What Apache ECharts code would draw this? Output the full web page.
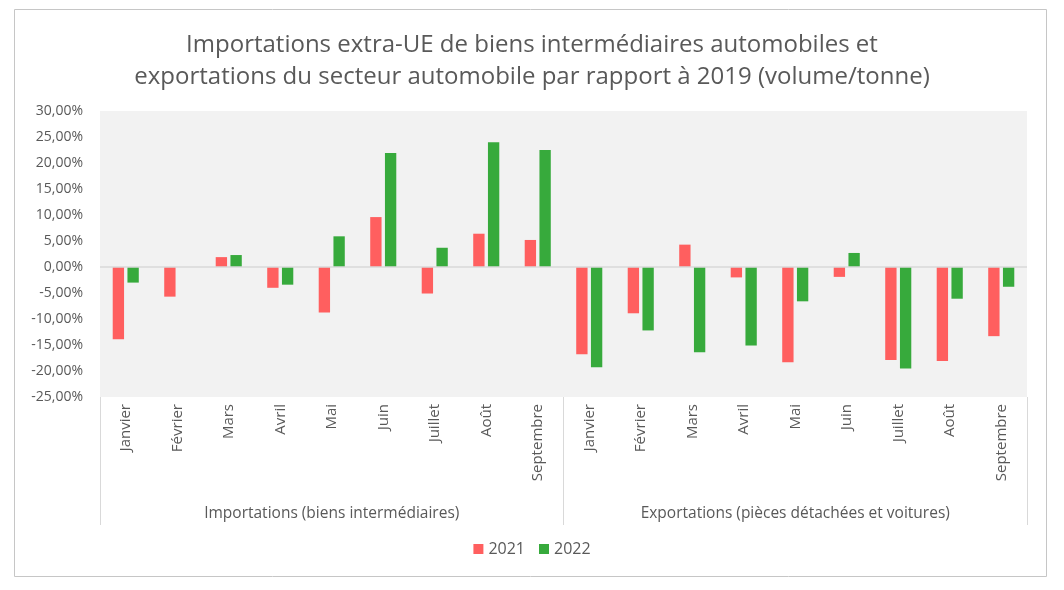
<!DOCTYPE html>
<html>
<head>
<meta charset="utf-8">
<script src="https://cdn.jsdelivr.net/npm/echarts@6/dist/echarts.min.js"></script>
<style>html,body{margin:0;padding:0;background:#fff}#c{width:1064px;height:590px}</style>
</head>
<body>
<div id="c"></div>
<script>
const titleText = "Importations extra-UE de biens intermédiaires automobiles et\nexportations du secteur automobile par rapport à 2019 (volume/tonne)";
const months = ["Janvier","Février","Mars","Avril","Mai","Juin","Juillet","Août","Septembre"];
const groups = ["Importations (biens intermédiaires)","Exportations (pièces détachées et voitures)"];
const categories = months.concat(months);
const seriesNames = ["2021","2022"];
const values2021 = [-13.9,-5.7,1.9,-4.0,-8.75,9.6,-5.1,6.4,5.2, -16.8,-8.9,4.3,-2.0,-18.3,-1.9,-17.9,-18.1,-13.3];
const values2022 = [-3.0,null,2.3,-3.4,5.9,21.9,3.7,24.0,22.5, -19.3,-12.2,-16.4,-15.1,-6.6,2.7,-19.5,-6.1,-3.8];
const yTicks = {min:-25, max:30, interval:5};

const txt = '#595959';
const font = '"Open Sans", sans-serif';
const chart = echarts.init(document.getElementById('c'));
chart.setOption({
  animation:false,
  textStyle:{fontFamily:font},
  graphic:[{type:'rect',shape:{x:14.5,y:9.5,width:1032,height:567},style:{fill:null,stroke:'#c6c6c6',lineWidth:1},silent:true,z:-10}],
  title:{text:titleText,left:'center',top:24,
    textStyle:{fontFamily:font,fontSize:24,fontWeight:'normal',color:txt,lineHeight:32}},
  legend:{bottom:28,left:'center',itemWidth:10,itemHeight:10,itemGap:14,icon:'rect',
    textStyle:{fontFamily:font,fontSize:16,color:txt},data:seriesNames},
  grid:{left:100,right:37,top:111,bottom:193,show:true,backgroundColor:'#f2f2f2',borderWidth:0,containLabel:false},
  xAxis:[
    {type:'category',data:categories,position:'bottom',
      axisLine:{show:false},axisTick:{show:false},
      axisLabel:{rotate:90,margin:7,fontSize:15,color:txt,fontFamily:font,interval:0}},
    {type:'category',data:groups,position:'bottom',
      axisLine:{show:false},
      axisTick:{show:true,length:128,lineStyle:{color:'#d9d9d9',width:1}},
      axisLabel:{margin:109,fontSize:15.5,color:txt,fontFamily:font,interval:0}}
  ],
  yAxis:{type:'value',min:yTicks.min,max:yTicks.max,interval:yTicks.interval,
    axisLine:{show:false},axisTick:{show:false},splitLine:{show:false},
    axisLabel:{margin:17,fontSize:14,color:txt,fontFamily:font,
      formatter:v=>v.toFixed(2).replace('.',',')+'%'}},
  series:[
    {name:seriesNames[0],type:'bar',xAxisIndex:0,data:values2021,barWidth:'22%',barGap:'30%',
      itemStyle:{color:'#ff5f5f'},
      markLine:{silent:true,symbol:'none',label:{show:false},lineStyle:{color:'#d9d9d9',width:1.5,type:'solid'},data:[{yAxis:0}]}},
    {name:seriesNames[1],type:'bar',xAxisIndex:0,data:values2022,barWidth:'22%',barGap:'30%',
      itemStyle:{color:'#37aa3c'}}
  ]
});
</script>
</body>
</html>
